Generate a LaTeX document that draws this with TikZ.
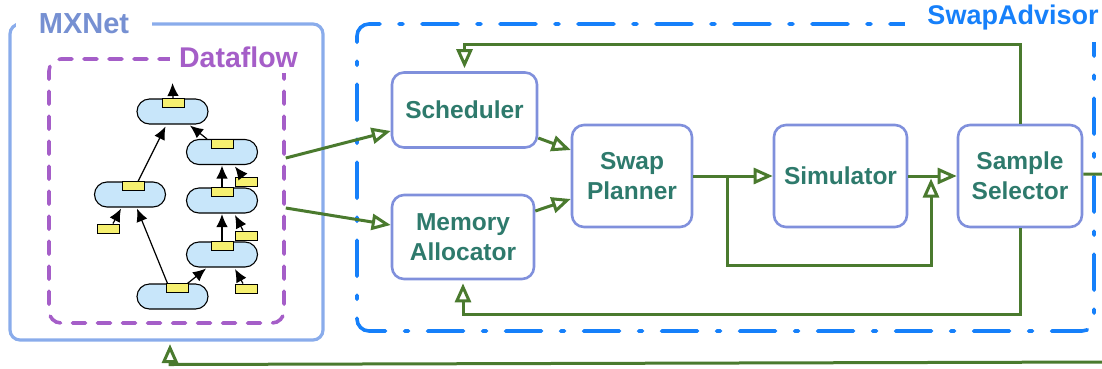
\documentclass[tikz,border=0pt]{standalone}
\usepackage{fontspec}
\setmainfont{Liberation Sans}
\usetikzlibrary{arrows.meta,calc}
\definecolor{mxc}{RGB}{138,172,235}
\definecolor{mxtext}{RGB}{118,144,210}
\definecolor{dfc}{RGB}{165,94,200}
\definecolor{sac}{RGB}{22,128,250}
\definecolor{boxc}{RGB}{128,144,220}
\definecolor{txtc}{RGB}{46,122,108}
\definecolor{flowc}{RGB}{74,122,46}
\definecolor{pillc}{RGB}{200,230,250}
\definecolor{tagc}{RGB}{246,240,112}
\begin{document}
\begin{tikzpicture}[x=1pt,y=-1pt,
  mod/.style={draw=boxc, line width=2.6pt, rounded corners=12pt, text=txtc,
    font=\bfseries\fontsize{24.5}{30}\selectfont, align=center, inner sep=0pt},
  pill/.style={draw=black, line width=1.1pt, fill=pillc, rounded corners=12.5pt,
    minimum width=71pt, minimum height=25pt, inner sep=0pt},
  tag/.style={draw=black, line width=1pt, fill=tagc, minimum width=22pt,
    minimum height=9pt, inner sep=0pt},
  dep/.style={draw=black, line width=1.2pt, -{Latex[length=13pt,width=11.5pt]}},
  flow/.style={draw=flowc, line width=3pt, -{Triangle[open,length=19pt,width=16pt]}},
  biglabel/.style={font=\bfseries\fontsize{27}{30}\selectfont, fill=white}
]
\useasboundingbox (0,0) rectangle (1102,368);

% containers
\node[draw=mxc, line width=3.2pt, rounded corners=10pt, minimum width=313pt,
  minimum height=316pt, inner sep=0pt] (mxnet) at (166.5,182) {};
\node[biglabel, text=mxtext, font=\bfseries\fontsize{29}{30}\selectfont,
  inner xsep=23pt, inner ysep=4pt] (mxlab) at (84,24) {MXNet};

\node[draw=dfc, line width=3.6pt, line cap=round, dash pattern=on 13pt off 12pt,
  rounded corners=12pt, minimum width=235pt, minimum height=264pt, inner sep=0pt]
  (dataflow) at (166.5,191) {};
\node[biglabel, text=dfc, font=\bfseries\fontsize{28.5}{30}\selectfont,
  inner xsep=9pt, inner ysep=6pt] (dflab) at (238.5,57) {Dataflow};

\node[draw=sac, line width=3.6pt, line cap=round, dash pattern=on 36pt off 19pt on 4pt off 19pt,
  rounded corners=12pt, minimum width=737pt, minimum height=307pt, inner sep=0pt]
  (sa) at (725.5,177.5) {};
\node[biglabel, text=sac, font=\bfseries\fontsize{27}{30}\selectfont,
  inner xsep=22pt, inner ysep=11pt] (salab) at (1013,18) {SwapAdvisor};

% dataflow graph
\node[pill] (p1) at (172.5,111.5) {};
\node[pill] (p2) at (222,152) {};
\node[pill] (p3) at (130,194.5) {};
\node[pill] (p4) at (222,200.5) {};
\node[pill] (p5) at (222,254.5) {};
\node[pill] (p6) at (172.5,296.5) {};
\node[tag, anchor=north] (t1) at ([xshift=0.5pt]p1.north) {};
\node[tag, anchor=north] (t2) at (p2.north) {};
\node[tag, anchor=north] (t3) at ([xshift=3pt]p3.north) {};
\node[tag, anchor=north] (t4) at (p4.north) {};
\node[tag, anchor=north] (t5) at (p5.north) {};
\node[tag, anchor=north] (t6) at ([xshift=4.5pt]p6.north) {};
\node[tag] (i3) at (108,228.5) {};
\node[tag] (i2) at (246.5,182) {};
\node[tag] (i4) at (246.5,235.5) {};
\node[tag] (i5) at (246.5,288.5) {};
\coordinate (out) at (172.5,83);

\draw[dep] (t1.north) -- (out);
\draw[dep] ([xshift=8pt]p3.north) -- ([xshift=-7pt,yshift=-2pt]p1.south);
\draw[dep] ([xshift=-15pt]p2.north) -- ([xshift=17.5pt,yshift=-1pt]p1.south);
\draw[dep] (t4.north) -- ([yshift=-0.5pt]p2.south);
\draw[dep] (t5.north) -- ([yshift=-0.5pt]p4.south);
\draw[dep] ([xshift=2pt]t6.north west) -- ([xshift=7pt,yshift=-1pt]p3.south);
\draw[dep] ([xshift=-1pt]t6.north east) -- ([xshift=-16pt,yshift=-1pt]p5.south);
\draw[dep] ([xshift=5pt]i3.north) -- ([xshift=-9pt,yshift=-1pt]p3.south);
\draw[dep] ([xshift=-3.5pt]i2.north) -- ([xshift=13pt,yshift=-1.5pt]p2.south);
\draw[dep] ([xshift=-3.5pt]i4.north) -- ([xshift=13pt,yshift=-1.5pt]p4.south);
\draw[dep] ([xshift=-3.5pt]i5.north) -- ([xshift=13pt,yshift=-1.5pt]p5.south);

% SwapAdvisor modules
\node[mod, minimum width=145pt, minimum height=75pt] (sch) at (464.5,110) {Scheduler};
\node[mod, minimum width=142pt, minimum height=84pt] (ma) at (463,237) {Memory\\Allocator};
\node[mod, minimum width=120pt, minimum height=102pt] (sp) at (632,176) {Swap\\Planner};
\node[mod, minimum width=133pt, minimum height=102pt] (sim) at (840.5,176) {Simulator};
\node[mod, minimum width=124pt, minimum height=102pt] (ss) at (1020,176) {Sample\\Selector};

\coordinate (br) at (727,176);
\coordinate (mg) at (931,176);
\coordinate (farR) at (1112,174);
\coordinate (farB) at (1112,362);
\coordinate (botL) at (170,364.5);

% connectors
\draw[flow] ([yshift=33pt]dataflow.east) -- ([yshift=-21pt]sch.west);
\draw[flow] ([yshift=-17pt]dataflow.east) -- ([yshift=12pt]ma.west);
\draw[flow] ([yshift=-28pt]sch.east) -- ([yshift=26pt]sp.west);
\draw[flow] ([yshift=26pt]ma.east) -- ([yshift=-23pt]sp.west);
\draw[flow] (sp.east) -- (sim.west);
\draw[flow] (br) -- ++(0,89) -| ($(mg)+(0,2.5)$);
\draw[flow] (sim.east) -- (ss.west);
\draw[flow] (ss.north) -- ++(0,-79) -| ([yshift=3pt]sch.north);
\draw[flow] (ss.south) -- ++(0,86) -| ([yshift=-3pt]ma.south);
\draw[flow] ([yshift=2pt]ss.east) -- (farR) -- (farB) -- (botL) -- ([xshift=3.5pt,yshift=-2.5pt]mxnet.south);
\end{tikzpicture}
\end{document}
